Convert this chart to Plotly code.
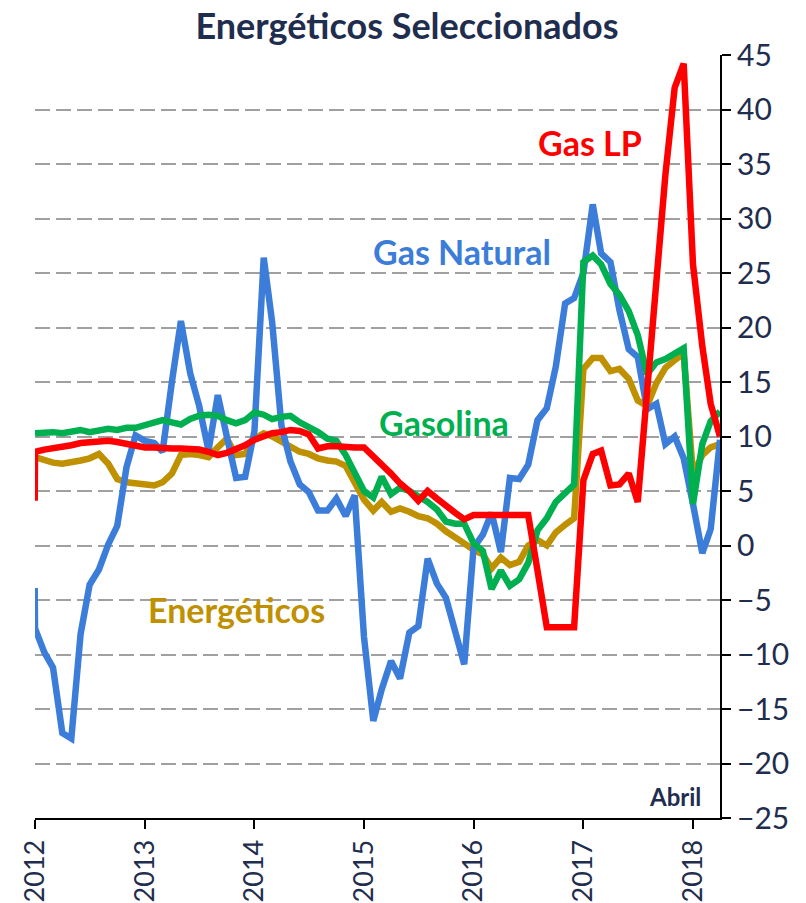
import plotly.graph_objects as go
import pandas as pd

# Monthly dates Jan 2012 - Apr 2018, preceded by the clipped value just before the axis start
months = ["2011-12-31"] + [d.strftime("%Y-%m-%d") for d in pd.date_range("2012-01-01", "2018-04-01", freq="MS")]

year_ticks = ["2012-01-01", "2013-01-01", "2014-01-01", "2015-01-01", "2016-01-01", "2017-01-01", "2018-01-01"]
year_labels = ["2012", "2013", "2014", "2015", "2016", "2017", "2018"]

gas_natural = [-3.9,
    -7.6, -9.8, -11.2, -17.2, -17.7, -8.1, -3.6, -2.2, 0.1, 1.8, 7.2, 10.1,
    9.6, 9.4, 8.6, 15.0, 20.6, 15.8, 12.8, 8.7, 13.8, 10.0, 6.2, 6.3,
    10.5, 26.4, 20.5, 11.0, 7.7, 5.6, 4.9, 3.2, 3.2, 4.3, 2.7, 4.6,
    -8.4, -16.1, -13.2, -10.6, -12.2, -8.0, -7.4, -1.2, -3.5, -4.8, -8.1, -10.9,
    -0.2, 1.0, 3.0, -0.6, 6.2, 6.1, 7.4, 11.5, 12.6, 16.4, 22.2, 22.7,
    25.0, 31.3, 26.8, 26.0, 21.6, 18.0, 17.3, 12.5, 13.0, 9.3, 10.0, 8.0,
    3.8, -0.7, 1.5, 9.7]

gas_lp = [4.1,
    8.6, 8.8, 8.9, 9.0, 9.2, 9.4, 9.5, 9.6, 9.6, 9.5, 9.3, 9.1,
    9.0, 9.0, 8.9, 8.9, 8.9, 8.9, 8.8, 8.6, 8.3, 8.5, 8.8, 9.2,
    9.7, 10.0, 10.3, 10.4, 10.6, 10.5, 10.2, 8.9, 9.1, 9.1, 9.0, 9.0,
    9.0, 8.2, 7.4, 6.6, 5.7, 5.0, 4.1, 5.0, 4.3, 3.6, 3.0, 2.4,
    2.8, 2.8, 2.8, 2.8, 2.8, 2.8, 2.8, -2.3, -7.5, -7.5, -7.5, -7.5,
    6.0, 8.4, 8.7, 5.5, 5.6, 6.6, 4.0, 14.0, 24.5, 34.0, 42.0, 44.2,
    25.8, 18.3, 13.0, 10.0]

gasolina = [None,
    10.3, 10.4, 10.4, 10.3, 10.5, 10.6, 10.4, 10.6, 10.7, 10.6, 10.8, 10.8,
    11.0, 11.3, 11.5, 11.3, 11.1, 11.6, 11.9, 12.0, 11.9, 11.5, 11.2, 11.5,
    12.2, 12.0, 11.6, 11.8, 11.9, 11.3, 10.9, 10.4, 9.8, 9.6, 8.3, 6.8,
    5.0, 4.4, 6.3, 4.7, 5.3, 5.0, 4.5, 4.0, 3.3, 2.2, 2.0, 2.0,
    0.2, -0.5, -4.0, -2.3, -3.7, -3.1, -1.6, 1.4, 2.5, 4.0, 4.8, 5.6,
    26.0, 26.6, 25.8, 24.0, 23.0, 21.5, 19.3, 15.7, 16.8, 17.1, 17.6, 18.1,
    3.8, 9.3, 11.4, 12.3]

energeticos = [None,
    8.1, 7.8, 7.6, 7.5, 7.6, 7.8, 8.0, 8.4, 7.5, 6.1, 5.8, 5.7,
    5.6, 5.5, 5.8, 6.6, 8.3, 8.4, 8.3, 8.1, 9.0, 9.8, 8.3, 8.4,
    9.8, 10.3, 10.0, 9.5, 9.0, 8.6, 8.4, 8.0, 7.8, 7.7, 7.3, 5.7,
    4.2, 3.2, 4.0, 3.1, 3.4, 3.1, 2.7, 2.5, 2.0, 1.3, 0.8, 0.2,
    -0.4, -0.8, -2.1, -1.1, -1.8, -1.5, 0.0, 0.5, 0.0, 1.2, 1.9, 2.5,
    16.2, 17.2, 17.2, 16.0, 16.2, 15.3, 13.3, 12.8, 14.9, 16.3, 17.0, 17.6,
    6.5, 8.3, 9.0, 9.3]

NAVY = "#1F2D4E"
C_BLUE = "#3C7DD9"
C_RED = "#FF0000"
C_GREEN = "#00B050"
C_GOLD = "#BF9000"
FONT = "Lato"

fig = go.Figure()
series = [
    ("Energéticos", energeticos, C_GOLD),
    ("Gas Natural", gas_natural, C_BLUE),
    ("Gasolina", gasolina, C_GREEN),
    ("Gas LP", gas_lp, C_RED),
]
for name, vals, col in series:
    fig.add_trace(go.Scatter(x=months, y=vals, mode="lines", name=name,
                             line=dict(color=col, width=6.5), connectgaps=False))

labels = [
    ("Gas LP", 0.810, 0.885, C_RED),
    ("Gas Natural", 0.623, 0.742, C_BLUE),
    ("Gasolina", 0.597, 0.518, C_GREEN),
    ("Energéticos", 0.294, 0.273, C_GOLD),
]
for txt, xp, yp, col in labels:
    fig.add_annotation(text=f"<b>{txt}</b>", x=xp, y=yp, xref="paper", yref="paper",
                       xanchor="center", yanchor="middle", showarrow=False,
                       font=dict(family=FONT, size=34, color=col))

fig.add_annotation(text="<b>Abril</b>", x=0.975, y=0.028, xref="paper", yref="paper",
                   xanchor="right", yanchor="middle", showarrow=False,
                   font=dict(family=FONT, size=24, color=NAVY))

# small extension of the bottom axis line past the right axis
fig.add_shape(type="line", xref="paper", yref="paper", x0=1, x1=1.013, y0=0, y1=0,
              line=dict(color="black", width=2))

# the page body adds an 8px offset, so the figure is sized to fit the 806x903 window
fig.update_layout(
    width=798, height=895,
    margin=dict(l=27, r=86, t=47, b=85),
    paper_bgcolor="white", plot_bgcolor="white",
    showlegend=False,
    title=dict(text="<b>Energéticos Seleccionados</b>", x=0.5, xanchor="center",
               y=0.979, yanchor="middle", xref="container", yref="container",
               font=dict(family=FONT, size=36, color=NAVY)),
    font=dict(family=FONT, color=NAVY),
)
fig.update_xaxes(type="date", range=["2012-01-01", "2018-04-01"], automargin=False,
                 tickvals=year_ticks, ticktext=year_labels, tickangle=-90,
                 ticks="outside", ticklen=9, tickwidth=2, tickcolor="black",
                 showline=True, linecolor="black", linewidth=2,
                 showgrid=False, zeroline=False,
                 tickfont=dict(family=FONT, size=27, color=NAVY))
fig.update_yaxes(side="right", range=[-25, 45], dtick=5, tick0=0, automargin=False,
                 ticks="outside", ticklen=9, tickwidth=2, tickcolor="black",
                 showline=True, linecolor="black", linewidth=2,
                 showgrid=True, gridcolor="#A0A0A0", gridwidth=2, griddash="15px,6px",
                 zeroline=False,
                 tickfont=dict(family=FONT, size=30, color=NAVY))

fig.write_html("out.html")
